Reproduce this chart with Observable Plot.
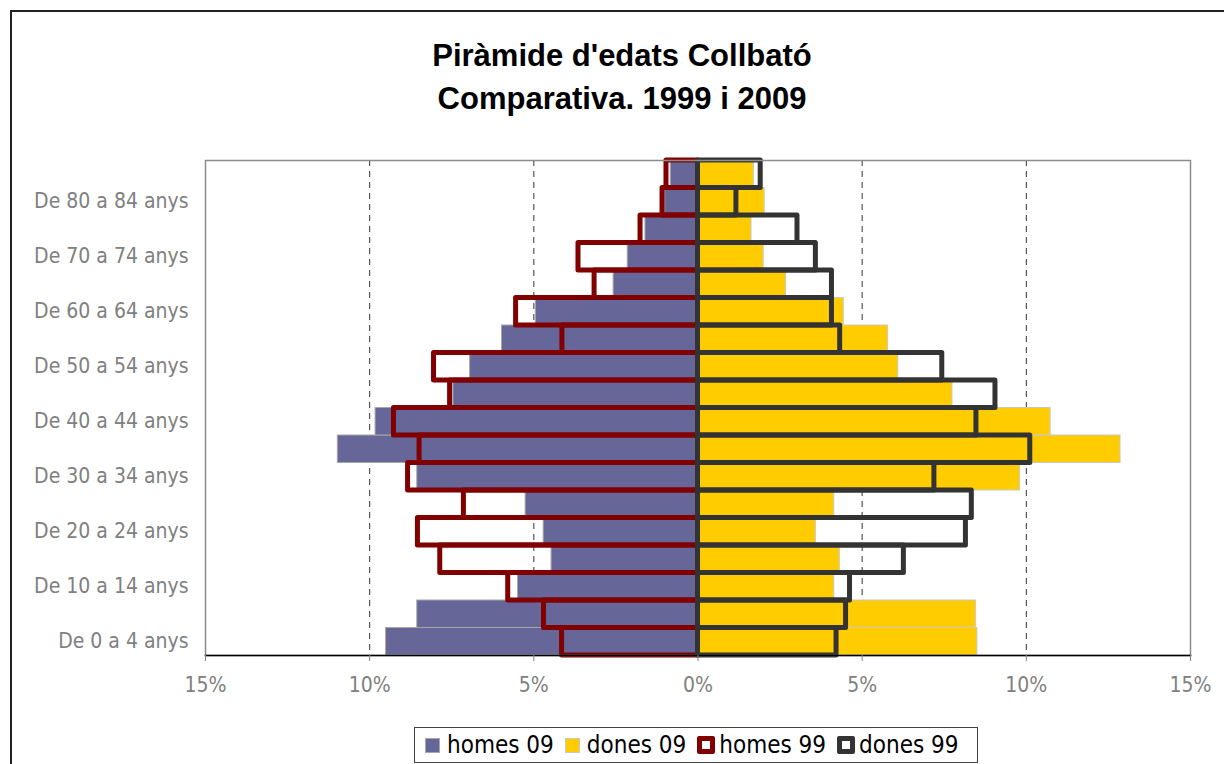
<!DOCTYPE html>
<html>
<head>
<meta charset="utf-8">
<script src="https://cdn.jsdelivr.net/npm/d3@7"></script>
<script src="https://cdn.jsdelivr.net/npm/@observablehq/plot@0.6"></script>
<style>
  html, body { margin: 0; padding: 0; background: #fff; }
  body { width: 1224px; height: 764px; overflow: hidden; position: relative; }
  #border { position: absolute; left: 10px; top: 10px; width: 1300px; height: 900px; border: 2px solid #222; box-sizing: border-box; }
  #title { position: absolute; left: 10px; width: 1224px; top: 34px; text-align: center;
           font-family: "Liberation Sans", Arial, sans-serif; font-weight: bold; font-size: 31px; line-height: 43px; color: #000; }
  #chart { position: absolute; left: 0; top: 140px; }
  #legend { position: absolute; left: 414px; top: 727px; width: 564px; height: 36px; box-sizing: border-box;
            border: 1px solid #444; background: #fff; display: flex; align-items: center; padding-left: 10px;
            font-family: "DejaVu Sans Condensed", "DejaVu Sans", sans-serif; font-size: 24px; color: #000; }
  .sw { width: 15px; height: 15px; box-sizing: border-box; flex: none; }
  .sw.fill { margin-right: 7px; }
  .sw.out { width: 18px; height: 18px; margin-right: 4px; border-width: 5px; border-style: solid; background: #fff; border-radius: 2px; }
  .lab { margin-right: 11px; white-space: nowrap; }
</style>
</head>
<body>
<div id="border"></div>
<div id="title">Piràmide d'edats Collbató<br>Comparativa. 1999 i 2009</div>
<div id="chart"></div>
<div id="legend">
  <span class="sw fill" style="background:#666699;border:1px solid #a6a6a6"></span><span class="lab">homes 09</span>
  <span class="sw fill" style="background:#FFCC00;border:1px solid #c8c8c8"></span><span class="lab">dones 09</span>
  <span class="sw out" style="border-color:#800000"></span><span class="lab">homes 99</span>
  <span class="sw out" style="border-color:#333333"></span><span class="lab">dones 99</span>
</div>
<script>
const ages = ["De 0 a 4 anys", "De 5 a 9 anys", "De 10 a 14 anys", "De 15 a 19 anys", "De 20 a 24 anys",
  "De 25 a 29 anys", "De 30 a 34 anys", "De 35 a 39 anys", "De 40 a 44 anys", "De 45 a 49 anys",
  "De 50 a 54 anys", "De 55 a 59 anys", "De 60 a 64 anys", "De 65 a 69 anys", "De 70 a 74 anys",
  "De 75 a 79 anys", "De 80 a 84 anys", "De 85 anys i més"];
const homes09 = [9.50, 8.55, 5.48, 4.46, 4.70, 5.25, 8.55, 10.97, 9.82, 7.45, 6.94, 5.97, 4.94, 2.57, 2.14, 1.60, 1.00, 0.83];
const dones09 = [8.51, 8.47, 4.15, 4.32, 3.59, 4.15, 9.81, 12.87, 10.74, 7.75, 6.10, 5.79, 4.44, 2.68, 2.00, 1.63, 2.03, 1.70];
const homes99 = [4.14, 4.69, 5.78, 7.85, 8.53, 7.13, 8.83, 8.48, 9.26, 7.55, 8.04, 4.13, 5.54, 3.15, 3.64, 1.75, 1.08, 0.96];
const dones99 = [4.22, 4.51, 4.63, 6.27, 8.16, 8.34, 7.20, 10.12, 8.48, 9.06, 7.44, 4.33, 4.08, 4.08, 3.59, 3.03, 1.17, 1.91];
const yTickLabels = ["De 0 a 4 anys", "De 10 a 14 anys", "De 20 a 24 anys", "De 30 a 34 anys", "De 40 a 44 anys",
  "De 50 a 54 anys", "De 60 a 64 anys", "De 70 a 74 anys", "De 80 a 84 anys"];
const xTicks = [-15, -10, -5, 0, 5, 10, 15];
const gridValues = [-10, -5, 5, 10];

const rows = ages.map((a, i) => ({age: a, h09: homes09[i], d09: dones09[i], h99: homes99[i], d99: dones99[i]}));

const chart = Plot.plot({
  width: 1224, height: 570,
  marginLeft: 205, marginRight: 34, marginTop: 20, marginBottom: 55,
  style: {fontFamily: "'DejaVu Sans Condensed', 'DejaVu Sans', sans-serif", fontSize: "21px", color: "#808080", background: "transparent", overflow: "visible"},
  x: {domain: [-15, 15]},
  y: {domain: ages.slice().reverse(), padding: 0, round: false},
  marks: [
    Plot.ruleX(gridValues, {stroke: "#333", strokeDasharray: "6,5", strokeWidth: 1}),
    Plot.barX(rows, {y: "age", x1: 0, x2: d => -d.h09, fill: "#666699", stroke: "#a6a6a6", strokeWidth: 1}),
    Plot.barX(rows, {y: "age", x1: 0, x2: "d09", fill: "#FFCC00", stroke: "#c8c8c8", strokeWidth: 1}),
    Plot.barX(rows, {y: "age", x1: 0, x2: d => -d.h99, fill: "none", stroke: "#800000", strokeWidth: 5, strokeLinejoin: "round"}),
    Plot.barX(rows, {y: "age", x1: 0, x2: "d99", fill: "none", stroke: "#333333", strokeWidth: 5, strokeLinejoin: "round"}),
    Plot.frame({stroke: "#8c8c8c", strokeWidth: 1.5}),
    Plot.frame({anchor: "bottom", stroke: "#000", strokeWidth: 1.5}),
    Plot.axisX({ticks: xTicks, tickFormat: d => Math.abs(d) + "%", tickSize: 6, tickPadding: 16, label: null}),
    Plot.axisY({ticks: yTickLabels, tickSize: 0, tickPadding: 17, label: null})
  ]
});
document.getElementById("chart").appendChild(chart);
</script>
</body>
</html>
